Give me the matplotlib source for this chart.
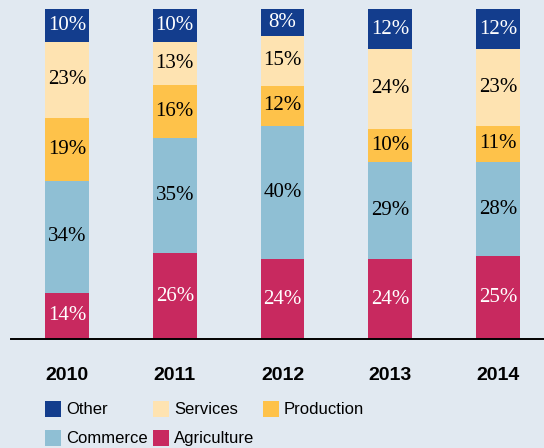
import numpy as np
import matplotlib.pyplot as plt
from matplotlib.patches import Rectangle

years = ["2010", "2011", "2012", "2013", "2014"]
agriculture = [14, 26, 24, 24, 25]
commerce = [34, 35, 40, 29, 28]
production = [19, 16, 12, 10, 11]
services = [23, 13, 15, 24, 23]
other = [10, 10, 8, 12, 12]

names = ["Agriculture", "Commerce", "Production", "Services", "Other"]
colors = ["#c8295f", "#8fbfd4", "#fec24a", "#fee3b1", "#133d8d"]
text_colors = ["white", "black", "black", "black", "white"]

bg = "#e1e9f1"
W, H = 544, 448

series = np.array([agriculture, commerce, production, services, other], dtype=float)
shares = series / series.sum(axis=0) * 100

fig = plt.figure(figsize=(W / 100, H / 100), dpi=100, facecolor=bg)
ax = fig.add_axes([11 / W, 1 - 339 / H, 533 / W, 330 / H])
ax.set_facecolor(bg)

x = np.arange(len(years))
bottom = np.zeros(len(years))
for i, name in enumerate(names):
    ax.bar(x, shares[i], 0.408, bottom=bottom, color=colors[i], linewidth=0)
    for j in range(len(years)):
        ax.text(x[j], bottom[j] + shares[i][j] / 2, f"{int(series[i][j])}%",
                ha="center", va="center", color=text_colors[i],
                fontsize=15, family="Liberation Serif")
    bottom += shares[i]

ax.set_xlim(-0.52, 4.427)
ax.set_ylim(0, 100)
for s in ["top", "right", "left"]:
    ax.spines[s].set_visible(False)
ax.spines["bottom"].set_linewidth(1.4)
ax.set_yticks([])
ax.set_xticks(x)
ax.set_xticklabels(years, fontsize=14, fontweight="bold", family="Liberation Sans")
ax.tick_params(axis="x", length=0, pad=20)

# legend: row 1 Other, Services, Production; row 2 Commerce, Agriculture
legend_items = [(4, 45, 409), (3, 153, 409), (2, 263, 409), (1, 45, 438), (0, 153, 438)]
for k, px, py in legend_items:
    fig.add_artist(Rectangle((px / W, 1 - (py + 8) / H), 16 / W, 16 / H,
                             transform=fig.transFigure, color=colors[k], linewidth=0))
    fig.text((px + 21) / W, 1 - py / H, names[k], ha="left", va="center",
             fontsize=12, family="Liberation Sans")

fig.savefig("out.png", dpi=100, facecolor=bg)
